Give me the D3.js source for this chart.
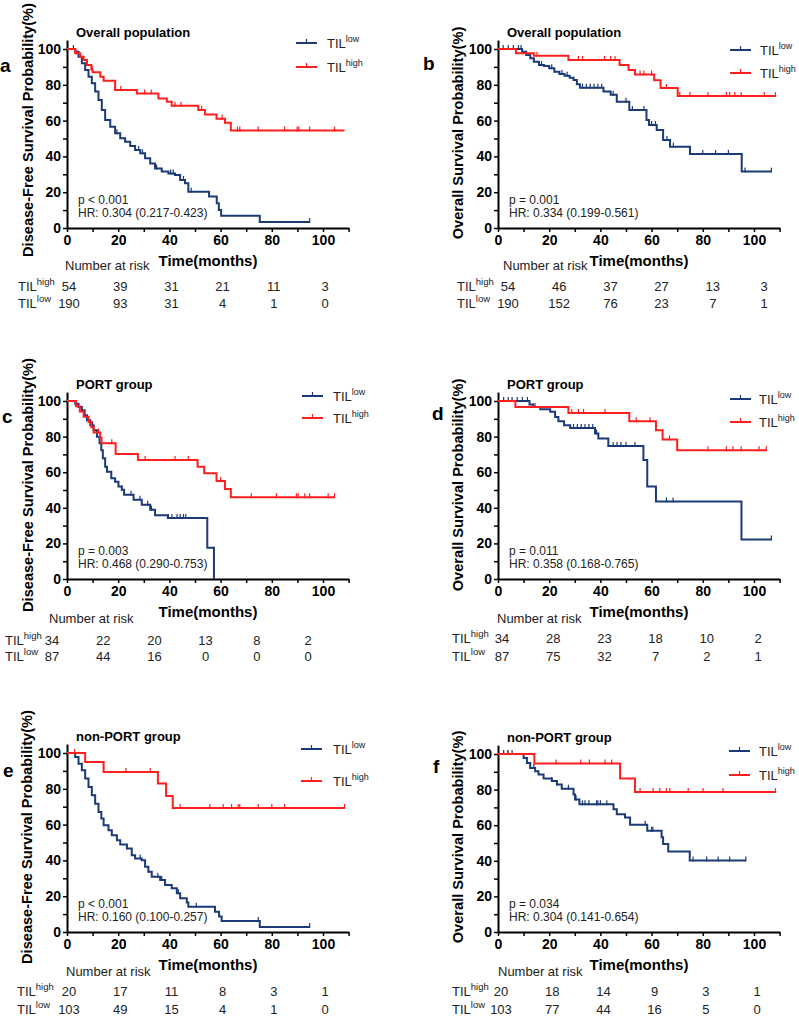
<!DOCTYPE html>
<html>
<head>
<meta charset="utf-8">
<script src="https://cdn.jsdelivr.net/npm/d3@7"></script>
<style>
  body { margin: 0; background: #fff; }
  svg { display: block; font-family: Arial, "Liberation Sans", sans-serif; }
</style>
</head>
<body>
<div id="chart"></div>
<script>
  /*
    Kaplan-Meier steps: [months, survival %]
    the last pair is where the curve stops
  */
  var aHigh = [[0,100],[3.2,97.6],[5.2,95.7],[6.5,93.9],[7.8,91],[9.5,88.6],[10,87],[13,84.5],[14.3,82.3],[18.8,77.1],[27.3,75.2],[35.7,72.4],[39,70.6],[40.9,68.3],[51.3,65.9],[53.9,63.4],[58.4,61.1],[61.7,58.8],[64,54.4],[108.4,54.4]];
  var aLow = [[0,100],[3.2,98.5],[4.5,95.7],[5.8,92],[7.1,88.3],[8.4,84.5],[9.7,80.8],[11,76.2],[12.3,71.5],[13.6,65.9],[14.9,60.3],[16.9,56.6],[18.8,52.9],[20.8,50.1],[22.7,48.2],[24.7,45.8],[26.6,43.6],[28.6,41.7],[30.5,38.9],[32.5,36.1],[34.4,33.3],[37,31.5],[39.6,30.5],[42.2,29.6],[44.2,26.8],[46.1,25],[47.4,20.3],[55.5,17.6],[58.5,13.8],[59.3,10],[60.2,6.9],[75.3,3.4],[94.8,3.4]];
  var aHighCens = [3.5,9.8,18.8,21,30.3,32.9,42.2,44.5,52.6,60.6,61.7,66.6,67.5,74.7,85,89.9,90.5,94.8,104.5];
  var aLowCens = [2.5,19.5,28,29.5,35,40.5,41.5,45.5,48.5,94.8];

  var bHigh = [[0,100],[7,97.6],[14,96.2],[27.5,93.9],[47.5,91],[51,88.3],[53.5,85.8],[61,82.5],[63.5,78.2],[70.2,73.7],[108.4,73.7]];
  var bLow = [[0,100],[9.4,98.5],[11,96.6],[12.6,94.8],[14,92.9],[16,91],[18,90.5],[20,89.2],[22,87.3],[24,86],[26,85.1],[28,84],[29.5,82.7],[30.8,80.3],[32,78.4],[41.2,76.2],[44,74.4],[46.4,70.6],[51.3,65.9],[58,60.3],[59,57.5],[62,54.7],[64.5,49.2],[67.2,45.4],[75,41.3],[95.2,31.5],[106.8,31.5]];
  var bHighCens = [15.2,31.4,33,41.6,44,45.7,55.5,57,60,65.8,71,75,82,89.2,90.5,92.5,95,104,108.4];
  var bLowCens = [2,4,6,8,9,17,21,25,27,33,34.5,36,37.5,39,40.5,45,50,52.5,57,60,61.5,66,68.5,80,85,90,96.5,106.8];

  var cHigh = [[0,100],[3.5,97.1],[5,94.1],[6.5,91.2],[8.4,88.2],[9.5,85.3],[10.4,82.3],[13,79.3],[13.5,76.2],[19,70.2],[27.7,66.9],[51,63.1],[53.6,59.4],[58.4,55.1],[61.7,50.5],[64,45.9],[104.5,45.9]];
  var cLow = [[0,100],[3.2,98.5],[4.5,96.6],[5.8,94.8],[6.9,92],[7.8,89.2],[9.1,86.4],[10.4,83.6],[11.7,79.9],[12.7,76.2],[13.4,72.4],[14,67.8],[14.9,63.1],[15.6,60.3],[17.3,56.6],[18.8,54.7],[20.1,52],[21.4,50.1],[22.3,47.3],[26,44.5],[29.2,41.7],[32.5,38.9],[34.4,35.8],[39.4,34.3],[54.8,17.5],[57.4,0]];
  var cHighCens = [12.3,17.5,30.5,42.2,47.4,60,72,81.8,89.6,90.3,92.9,94.8,102,104.5];
  var cLowCens = [10,21.4,25,28.5,31.5,33,39.6,41,43,44.2,45.5,46.4];

  var dHigh = [[0,100],[6.8,96.6],[27.5,93.3],[51.3,88.6],[61.7,83.6],[64.3,78.4],[70,72.4],[104.8,72.4]];
  var dLow = [[0,100],[12.3,98],[13.9,96.6],[16.5,95.3],[20.4,93.9],[22.3,91],[23.6,88.6],[25.8,86.4],[28.2,84.9],[37.9,81.7],[39.2,79],[43.1,74.7],[56.8,66.9],[58.3,51.9],[61.7,43.6],[95.1,22.2],[106.8,22.2]];
  var dHighCens = [14.5,28.8,31.4,33.4,41.8,54,59.4,67,82,89.2,91.8,95,102,104.8];
  var dLowCens = [2.2,4,5.5,7.5,9.5,11.5,29.5,31,32.5,34,35.5,37,38.5,45,46.5,48,50,53.5,65.8,68.4,106.8];

  var eHigh = [[0,100],[7.1,95],[14.3,89.4],[35.5,82.9],[38.7,76],[41.3,69.3],[108.4,69.3]];
  var eLow = [[0,100],[3.2,97.8],[4.5,94],[5.8,90.3],[7.1,85.7],[8.4,81],[9.7,76.4],[11,71.7],[12.3,67.1],[13.4,63.4],[14.3,59.7],[16.2,56.9],[17.5,54.1],[19.5,51.3],[20.8,48.9],[23.4,46.7],[25.3,42.9],[26.6,41.1],[29.2,40.1],[30.5,36.4],[31.8,33.6],[33.1,30.9],[36.4,29],[38.3,26.2],[40.9,24.4],[42.9,21.6],[44.2,18.8],[46.8,16.5],[47.4,14.1],[57.8,11.3],[59.4,8.6],[60.4,6.1],[75.3,2.8],[94.8,2.8]];
  var eHighCens = [3,23,32.5,44.2,55.8,61,64.3,66.9,67.5,74.7,80,85,108.4];
  var eLowCens = [23.4,28.6,31.8,35.5,37,43.5,50.5,74.7,94.8];

  var fHigh = [[0,100],[14.2,94.6],[47.7,86.2],[53.5,78.6],[108.4,78.6]];
  var fLow = [[0,100],[10,97.8],[11.3,95],[12.6,92.2],[14.5,90.3],[15.8,88.5],[17.8,86.2],[21,84.8],[23,82.9],[24.9,80.5],[29.5,77.3],[30.1,74.5],[31.8,71.7],[45.1,69],[46.4,66.2],[49.6,64.3],[51.6,60.2],[58.3,56.9],[63.9,53.2],[64.5,49.4],[66.5,45.2],[74.9,40.2],[96.8,40.2]];
  var fHighCens = [3.8,22.7,32.3,35.7,41.8,44.4,55.5,60.6,63.2,65.8,67.1,74.3,80.1,87.9,108.4];
  var fLowCens = [2.2,4,5.5,12.6,14,21,23,27.5,30.5,33,34,35.5,38.5,39,40,42.5,57.5,60,60.5,76.2,81.5,86,90.5,96.8];

  /* number at risk */
  var riskTimes = [0, 20, 40, 60, 80, 100];
  var aRiskHigh = [54, 39, 31, 21, 11, 3],  aRiskLow = [190, 93, 31, 4, 1, 0];
  var bRiskHigh = [54, 46, 37, 27, 13, 3],  bRiskLow = [190, 152, 76, 23, 7, 1];
  var cRiskHigh = [34, 22, 20, 13, 8, 2],   cRiskLow = [87, 44, 16, 0, 0, 0];
  var dRiskHigh = [34, 28, 23, 18, 10, 2],  dRiskLow = [87, 75, 32, 7, 2, 1];
  var eRiskHigh = [20, 17, 11, 8, 3, 1],    eRiskLow = [103, 49, 15, 4, 1, 0];
  var fRiskHigh = [20, 18, 14, 9, 3, 1],    fRiskLow = [103, 77, 44, 16, 5, 0];

  var xTicks = [0, 20, 40, 60, 80, 100];
  var xMinor = [10, 30, 50, 70, 90, 110];
  var yTicks = [0, 20, 40, 60, 80, 100];
  var yMinor = [10, 30, 50, 70, 90];

  var dfsLabel = "Disease-Free Survival Probability(%)",
      osLabel = "Overall Survival Probability(%)";

  var panels = [
    { id: "a", title: "Overall population", ylab: dfsLabel, high: aHigh, low: aLow, highCens: aHighCens, lowCens: aLowCens,
      riskHigh: aRiskHigh, riskLow: aRiskLow, p: "p < 0.001", hr: "HR: 0.304 (0.217-0.423)" },
    { id: "b", title: "Overall population", ylab: osLabel, high: bHigh, low: bLow, highCens: bHighCens, lowCens: bLowCens,
      riskHigh: bRiskHigh, riskLow: bRiskLow, p: "p = 0.001", hr: "HR: 0.334 (0.199-0.561)" },
    { id: "c", title: "PORT group", ylab: dfsLabel, high: cHigh, low: cLow, highCens: cHighCens, lowCens: cLowCens,
      riskHigh: cRiskHigh, riskLow: cRiskLow, p: "p = 0.003", hr: "HR: 0.468 (0.290-0.753)" },
    { id: "d", title: "PORT group", ylab: osLabel, high: dHigh, low: dLow, highCens: dHighCens, lowCens: dLowCens,
      riskHigh: dRiskHigh, riskLow: dRiskLow, p: "p = 0.011", hr: "HR: 0.358 (0.168-0.765)" },
    { id: "e", title: "non-PORT group", ylab: dfsLabel, high: eHigh, low: eLow, highCens: eHighCens, lowCens: eLowCens,
      riskHigh: eRiskHigh, riskLow: eRiskLow, p: "p < 0.001", hr: "HR: 0.160 (0.100-0.257)" },
    { id: "f", title: "non-PORT group", ylab: osLabel, high: fHigh, low: fLow, highCens: fHighCens, lowCens: fLowCens,
      riskHigh: fRiskHigh, riskLow: fRiskLow, p: "p = 0.034", hr: "HR: 0.304 (0.141-0.654)" }
  ];

  /*
    where each panel sits on the page
  */
  var layout = [
    { ox: 67,  y0: 228, y100: 49,  letX: 0,   letY: 72,  ylabX: 33,  ylabY: 130, legX: 296, legLow: 43,  legHigh: 67,  legText: 327, numOff: 2,   nrX: 65,  nrY: 270, rowX: 18,  row1: 291, row2: 308 },
    { ox: 498, y0: 228, y100: 49,  letX: 423, letY: 70,  ylabX: 463, ylabY: 133, legX: 730, legLow: 50,  legHigh: 73,  legText: 760, numOff: 10,  nrX: 503, nrY: 270, rowX: 457, row1: 291, row2: 308 },
    { ox: 67,  y0: 579, y100: 401, letX: 2,   letY: 423, ylabX: 33,  ylabY: 485, legX: 302, legLow: 396, legHigh: 418, legText: 333, numOff: -15, nrX: 49,  nrY: 623, rowX: 5,   row1: 645, row2: 661 },
    { ox: 498, y0: 579, y100: 401, letX: 432, letY: 420, ylabX: 463, ylabY: 485, legX: 730, legLow: 399, legHigh: 422, legText: 759, numOff: 4,   nrX: 497, nrY: 623, rowX: 452, row1: 643, row2: 661 },
    { ox: 67,  y0: 932, y100: 753, letX: 3,   letY: 777, ylabX: 32,  ylabY: 837, legX: 301, legLow: 749, legHigh: 781, legText: 333, numOff: 2,   nrX: 66,  nrY: 976, rowX: 17,  row1: 996, row2: 1014 },
    { ox: 498, y0: 932, y100: 754, letX: 433, letY: 773, ylabX: 463, ylabY: 837, legX: 729, legLow: 751, legHigh: 775, legText: 759, numOff: 3,   nrX: 498, nrY: 976, rowX: 452, row1: 996, row2: 1014 }
  ];

  var blue = "#1b3a78", red = "#ff1f1f";

  var svg = d3.select("#chart")
    .append("svg")
    .attr("width", 799)
    .attr("height", 1016);

  svg.append("rect").attr("width", 799).attr("height", 1016).attr("fill", "#fff");

  function valueAt(steps, t) {
    var v = steps[0][1];
    steps.forEach(function (s) { if (s[0] <= t) v = s[1]; });
    return v;
  }

  function tilText(sel, sup, size, supSize) {
    sel.append("tspan").attr("font-size", size).text("TIL");
    sel.append("tspan").attr("font-size", supSize).attr("dy", -6).text(sup);
  }

  panels.forEach(function (p, i) {
    var L = layout[i];
    var pxPerUnit = (L.y0 - L.y100) / 100;

    var x = d3.scaleLinear().domain([0, 110]).range([L.ox, L.ox + 110 * 2.56]);
    var y = d3.scaleLinear().domain([0, 105]).range([L.y0, L.y0 - 105 * pxPerUnit]);

    var g = svg.append("g");

    /* axes */
    g.append("g").attr("transform", "translate(0," + L.y0 + ")")
      .call(d3.axisBottom(x).tickValues(xTicks).tickSize(4).tickPadding(3).tickSizeOuter(0));
    g.append("g").attr("transform", "translate(0," + L.y0 + ")")
      .call(d3.axisBottom(x).tickValues(xMinor).tickSize(4).tickFormat("").tickSizeOuter(0))
      .select(".domain").remove();
    g.append("g").attr("transform", "translate(" + L.ox + ",0)")
      .call(d3.axisLeft(y).tickValues(yTicks).tickSize(4).tickPadding(2).tickSizeOuter(0));
    g.append("g").attr("transform", "translate(" + L.ox + ",0)")
      .call(d3.axisLeft(y).tickValues(yMinor).tickSize(4).tickFormat("").tickSizeOuter(0))
      .select(".domain").remove();

    g.selectAll(".domain").attr("stroke", "#000").attr("stroke-width", 2);
    g.selectAll(".tick line").attr("stroke", "#000").attr("stroke-width", 1.5);
    g.selectAll(".tick text")
      .attr("font-family", "Arial, 'Liberation Sans', sans-serif")
      .attr("font-size", 14).attr("font-weight", "bold").attr("fill", "#000");

    /* curves */
    var line = d3.line()
      .x(function (d) { return x(d[0]); })
      .y(function (d) { return y(d[1]); })
      .curve(d3.curveStepAfter);

    [[p.low, p.lowCens, blue], [p.high, p.highCens, red]].forEach(function (c) {
      g.append("path")
        .attr("d", line(c[0]))
        .attr("fill", "none")
        .attr("stroke", c[2])
        .attr("stroke-width", 2);

      g.selectAll(null)
        .data(c[1])
        .enter().append("line")
        .attr("x1", function (t) { return x(t); })
        .attr("x2", function (t) { return x(t); })
        .attr("y1", function (t) { return y(valueAt(c[0], t)) - 4; })
        .attr("y2", function (t) { return y(valueAt(c[0], t)) + 1; })
        .attr("stroke", c[2])
        .attr("stroke-width", 1.2);
    });

    /* titles and labels */
    g.append("text").attr("x", L.ox + 9).attr("y", y(100) - 12)
      .attr("font-size", 13).attr("font-weight", "bold").text(p.title);

    g.append("text").attr("x", L.letX).attr("y", L.letY)
      .attr("font-size", 19).attr("font-weight", "bold").text(p.id);

    g.append("text")
      .attr("transform", "translate(" + L.ylabX + "," + L.ylabY + ") rotate(-90)")
      .attr("text-anchor", "middle")
      .attr("font-size", 14.6).attr("font-weight", "bold").text(p.ylab);

    g.append("text").attr("x", L.ox + 141).attr("y", L.y0 + 38)
      .attr("text-anchor", "middle")
      .attr("font-size", 15).attr("font-weight", "bold").text("Time(months)");

    g.append("text").attr("x", L.ox + 11).attr("y", L.y0 - 24)
      .attr("font-size", 12).attr("fill", "#222").text(p.p);
    g.append("text").attr("x", L.ox + 11).attr("y", L.y0 - 11)
      .attr("font-size", 12).attr("fill", "#222").text(p.hr);

    /* legend */
    [[L.legLow, blue, "low"], [L.legHigh, red, "high"]].forEach(function (l) {
      g.append("line").attr("x1", L.legX).attr("x2", L.legX + 21)
        .attr("y1", l[0]).attr("y2", l[0])
        .attr("stroke", l[1]).attr("stroke-width", 2);
      g.append("line").attr("x1", L.legX + 10.5).attr("x2", L.legX + 10.5)
        .attr("y1", l[0] - 4).attr("y2", l[0] + 1)
        .attr("stroke", l[1]).attr("stroke-width", 1.2);
      tilText(g.append("text").attr("x", L.legText).attr("y", l[0] + 5).attr("fill", "#222"), l[2], 13, 9);
    });

    /* number at risk table */
    g.append("text").attr("x", L.nrX).attr("y", L.nrY)
      .attr("font-size", 13).attr("fill", "#222").text("Number at risk");

    [[L.row1, "high", p.riskHigh], [L.row2, "low", p.riskLow]].forEach(function (r) {
      tilText(g.append("text").attr("x", L.rowX).attr("y", r[0]).attr("fill", "#222"), r[1], 13, 9.5);
      g.selectAll(null)
        .data(r[2])
        .enter().append("text")
        .attr("x", function (d, k) { return x(riskTimes[k]) + L.numOff; })
        .attr("y", r[0])
        .attr("text-anchor", "middle")
        .attr("font-size", 13).attr("fill", "#222")
        .text(function (d) { return d; });
    });
  });
</script>
</body>
</html>
